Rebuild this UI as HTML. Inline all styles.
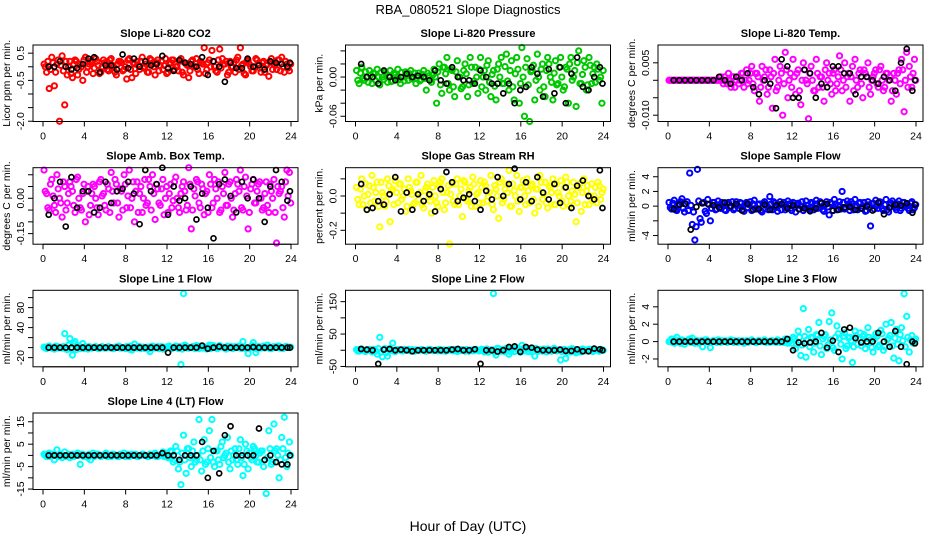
<!DOCTYPE html>
<html><head><meta charset="utf-8"><style>
html,body{margin:0;padding:0;background:#fff;}
svg{display:block;font-family:"Liberation Sans",sans-serif;}
</style></head><body>
<svg id="chart" width="936" height="540" viewBox="0 0 936 540">
<text x="468" y="14" text-anchor="middle" font-size="13">RBA_080521  Slope Diagnostics</text>
<text x="468" y="531" text-anchor="middle" font-size="14">Hour of Day (UTC)</text>
</svg>
<script>
const hours=[0.1,0.35,0.6,0.85,1.1,1.35,1.6,1.85,2.1,2.35,2.6,2.85,3.1,3.35,3.6,3.85,4.1,4.35,4.6,4.85,5.1,5.35,5.6,5.85,6.1,6.35,6.6,6.85,7.1,7.35,7.6,7.85,8.1,8.35,8.6,8.85,9.1,9.35,9.6,9.85,10.1,10.35,10.6,10.85,11.1,11.35,11.6,11.85,12.1,12.35,12.6,12.85,13.1,13.35,13.6,13.85,14.1,14.35,14.6,14.85,15.1,15.35,15.6,15.85,16.1,16.35,16.6,16.85,17.1,17.35,17.6,17.85,18.1,18.35,18.6,18.85,19.1,19.35,19.6,19.85,20.1,20.35,20.6,20.85,21.1,21.35,21.6,21.85,22.1,22.35,22.6,22.85,23.1,23.35,23.6,23.85];
const hours2=[0.22,0.47,0.72,0.97,1.22,1.47,1.72,1.97,2.22,2.47,2.72,2.97,3.22,3.47,3.72,3.97,4.22,4.47,4.72,4.97,5.22,5.47,5.72,5.97,6.22,6.47,6.72,6.97,7.22,7.47,7.72,7.97,8.22,8.47,8.72,8.97,9.22,9.47,9.72,9.97,10.22,10.47,10.72,10.97,11.22,11.47,11.72,11.97,12.22,12.47,12.72,12.97,13.22,13.47,13.72,13.97,14.22,14.47,14.72,14.97,15.22,15.47,15.72,15.97,16.22,16.47,16.72,16.97,17.22,17.47,17.72,17.97,18.22,18.47,18.72,18.97,19.22,19.47,19.72,19.97,20.22,20.47,20.72,20.97,21.22,21.47,21.72,21.97,22.22,22.47,22.72,22.97,23.22,23.47,23.72,23.97];
const blackHours=[0.55,1.1,1.65,2.2,2.75,3.3,3.85,4.4,4.95,5.5,6.05,6.6,7.15,7.7,8.25,8.8,9.35,9.9,10.45,11.0,11.55,12.1,12.65,13.2,13.75,14.3,14.85,15.4,15.95,16.5,17.05,17.6,18.15,18.7,19.25,19.8,20.35,20.9,21.45,22.0,22.55,23.1,23.65,23.9];
const xTicks=[0,4,8,12,16,20,24];

const co2Vals=[0.1,-0.2,-0.8,0.35,-0.7,0.1,-2.0,0.4,-1.4,-0.3,0.2,-0.4,0.25,-0.3,0.1,-0.5,0.35,0.0,0.2,-0.25,0.3,0.05,-0.2,0.25,0.1,-0.15,0.3,0.0,-0.3,0.2,0.15,-0.1,-0.45,0.3,-0.4,0.1,0.2,-0.1,0.35,0.0,-0.2,0.3,0.1,-0.3,0.25,0.05,-0.1,0.3,-0.2,0.15,0.25,0.0,-0.15,0.3,-0.3,0.1,-0.4,0.2,0.0,0.3,-0.25,0.15,0.7,-0.1,0.25,0.6,0.0,-0.2,0.65,0.3,0.1,-0.3,0.2,0.0,-0.2,0.35,0.7,0.1,-0.3,0.25,0.0,-0.15,0.3,0.1,-0.2,0.2,0.05,-0.35,0.3,0.1,-0.1,0.25,0.35,-0.2,0.1,-0.15];
const co2Vals2=[0.0,0.2,-0.1,0.15,-0.2,0.25,0.05,-0.15,0.2,0.0,-0.25,0.1,0.2,-0.1,0.0,0.25,-0.2,0.1,0.15,-0.05,0.2,-0.25,0.0,0.15,-0.1,0.25,0.05,-0.2,0.1,0.2,-0.15,0.0,0.25,-0.1,0.15,-0.25,0.05,0.2,-0.05,0.1,-0.2,0.25,0.0,0.15,-0.15,0.2,0.05,-0.25,0.1,0.25,-0.1,0.0,0.2,-0.2,0.15,0.05,-0.15,0.25,0.0,-0.1,0.2,0.1,-0.25,0.15,0.0,0.2,-0.15,0.25,-0.05,0.1,0.2,-0.2,0.0,0.15,0.25,-0.1,0.05,-0.25,0.2,0.1,-0.15,0.0,0.25,-0.05,0.15,-0.2,0.1,0.2,-0.1,0.05,0.25,-0.15,0.0,0.2,-0.05,0.1];
const co2Black=[0.0,0.0,0.2,0.0,-0.1,-0.05,0.1,0.3,0.35,-0.2,0.05,0.05,-0.1,0.45,-0.05,0.3,0.0,0.2,0.05,0.1,0.4,-0.05,-0.15,0.25,0.15,0.1,0.0,0.35,-0.3,0.2,0.0,-0.55,0.15,-0.05,-0.05,0.3,0.0,0.05,-0.1,0.2,0.15,0.1,0.0,0.15];
const presVals=[0.01,-0.01,0.015,-0.005,0.0,0.01,-0.01,0.005,0.012,-0.012,0.0,0.008,-0.008,0.01,-0.006,0.004,0.012,-0.01,0.0,0.008,-0.005,0.01,0.0,-0.01,0.006,-0.004,0.01,-0.02,0.002,-0.008,0.012,-0.04,0.02,-0.025,0.015,0.03,-0.02,0.01,-0.03,0.025,0.0,-0.015,0.02,-0.03,0.03,-0.01,0.015,-0.025,0.03,0.0,-0.02,0.025,-0.03,0.01,-0.035,0.02,0.03,-0.01,0.035,-0.02,0.025,-0.035,0.03,-0.04,0.045,-0.06,0.028,-0.068,0.01,-0.035,0.035,-0.02,0.02,-0.03,0.03,0.0,-0.035,0.025,-0.01,0.03,-0.02,0.015,-0.04,0.03,0.0,-0.045,0.04,-0.01,0.025,-0.02,0.03,-0.01,0.015,0.02,-0.005,-0.04];
const presVals2=[-0.005,0.006,-0.002,0.008,-0.008,0.003,0.006,-0.006,0.0,0.007,-0.004,0.005,0.002,-0.007,0.006,0.0,-0.004,0.007,-0.006,0.003,0.005,-0.003,0.006,0.002,-0.006,0.004,-0.002,0.006,-0.005,0.003,0.0,0.008,-0.012,0.015,0.005,-0.01,0.012,-0.015,0.008,0.0,-0.018,0.01,0.005,-0.012,0.015,-0.006,0.0,0.012,-0.015,0.01,0.018,-0.008,0.004,-0.014,0.012,0.0,-0.01,0.016,-0.006,0.01,-0.015,0.005,0.012,-0.01,0.0,0.015,-0.012,0.008,0.018,-0.005,0.0,0.012,-0.015,0.01,0.02,-0.008,0.006,-0.012,0.015,0.0,-0.015,0.012,0.02,-0.005,0.01,0.022,-0.01,0.004,0.015,-0.012,0.018,0.005,-0.008,0.012,0.0,0.01];
const presBlack=[0.02,0.0,0.0,-0.01,0.01,0.0,-0.005,0.0,0.005,0.0,0.002,0.0,-0.005,0.01,-0.005,-0.01,0.015,0.0,-0.005,-0.005,-0.01,0.01,0.0,-0.01,-0.01,-0.025,-0.01,-0.04,-0.02,-0.015,0.015,0.005,-0.03,0.012,-0.025,0.015,-0.04,0.005,0.03,-0.015,-0.02,0.0,0.015,-0.01];
const tempVals=[0,0,0,0,0,0,0,0,0,0,0,0,0,0,0,0,0,0,0,0,0.001,-0.001,0.0,0.002,-0.002,0.001,0.0,-0.001,0.002,-0.002,0.003,0.0,0.004,-0.003,0.002,-0.006,0.004,0.001,-0.004,0.003,-0.008,0.006,-0.002,0.004,-0.01,0.008,-0.005,0.002,0.006,-0.004,0.003,-0.007,0.005,0.0,-0.011,0.004,-0.003,0.006,-0.002,0.001,-0.006,0.005,0.002,-0.004,0.003,-0.001,0.007,-0.003,0.005,0.001,-0.006,0.004,0.006,-0.002,0.003,-0.005,0.002,0.005,-0.004,0.001,0.003,-0.002,0.004,-0.003,0.002,0.0,-0.006,0.002,-0.004,0.003,0.006,-0.009,0.008,0.004,-0.002,0.006];
const tempVals2=[0,0,0,0,0,0,0,0,0,0,0,0,0,0,0,0,0,0,0,0,0,0.001,-0.001,0.0,0.001,-0.002,0.001,0.0,0.002,0.0,-0.001,0.002,-0.001,0.002,0.001,-0.002,0.0,0.003,-0.002,0.001,0.002,-0.003,0.0,0.002,-0.001,0.003,0.0,-0.002,0.001,0.002,-0.003,0.0,0.003,-0.001,0.002,0.0,-0.003,0.002,0.001,-0.002,0.003,0.0,-0.001,0.002,-0.003,0.001,0.003,0.0,-0.002,0.002,0.001,-0.003,0.0,0.002,-0.001,0.003,0.001,-0.002,0.0,0.002,-0.001,0.003,0.0,-0.002,0.002,0.001,-0.003,0.0,0.002,-0.001,0.003,0.0,-0.002,0.001,0.002,0.0];
const tempBlack=[0,0,0,0,0,0,0,0,0.001,0.0,-0.001,0.001,0.0,0.002,-0.002,-0.004,0.0,-0.001,-0.008,0.006,0.004,-0.005,-0.005,0.003,0.002,-0.005,-0.001,-0.002,0.004,0.004,0.002,0.002,-0.004,0.001,0.001,0.0,-0.001,0.001,0.0,-0.003,0.005,0.009,-0.003,0.0];
const boxVals=[0.12,0.02,-0.05,0.08,-0.03,0.1,0.0,-0.08,0.05,-0.02,0.07,0.03,-0.06,0.09,-0.04,0.02,-0.1,0.05,-0.03,0.06,0.0,-0.07,0.08,0.02,-0.05,0.04,0.11,-0.02,0.06,-0.08,0.03,0.1,-0.04,0.12,0.0,-0.1,0.07,0.02,-0.06,0.08,-0.02,0.05,0.1,-0.09,0.04,-0.03,0.08,0.0,-0.06,0.06,-0.01,0.09,-0.04,0.02,0.07,-0.05,0.13,-0.13,0.04,0.08,-0.02,0.06,-0.07,0.03,0.1,-0.04,0.08,0.0,-0.06,0.05,0.11,-0.03,0.07,-0.08,0.02,0.06,0.12,-0.05,0.09,-0.13,0.04,0.08,-0.02,0.06,0.0,-0.04,0.07,-0.06,0.03,0.08,-0.19,0.02,0.05,-0.08,0.12,0.11];
const boxVals2=[0.03,-0.04,0.06,0.01,-0.06,0.04,-0.02,0.07,-0.05,0.02,0.05,-0.03,0.08,0.0,-0.05,0.06,0.03,-0.07,0.02,0.05,-0.04,0.07,0.01,-0.03,0.06,-0.06,0.03,0.08,-0.02,0.04,-0.05,0.06,0.01,-0.04,0.07,0.03,-0.06,0.05,0.0,-0.03,0.08,-0.05,0.02,0.06,-0.02,0.04,-0.07,0.05,0.02,-0.04,0.07,0.0,-0.06,0.05,0.03,-0.03,0.06,-0.05,0.01,0.07,-0.04,0.04,0.02,-0.06,0.06,-0.02,0.04,0.07,-0.05,0.02,-0.03,0.06,0.0,-0.05,0.08,0.03,-0.04,0.05,0.01,-0.06,0.06,-0.02,0.03,0.07,-0.05,0.02,-0.03,0.06,0.0,-0.06,0.05,0.03,-0.04,0.07,0.01,-0.02];
const boxBlack=[-0.07,0.0,0.07,-0.12,0.09,-0.04,0.03,0.03,-0.06,-0.04,0.07,-0.02,0.03,0.04,0.07,0.02,-0.11,0.12,0.03,0.06,0.13,-0.07,0.05,-0.01,0.0,0.05,-0.09,0.02,-0.04,-0.17,0.06,0.08,0.01,-0.06,0.07,0.0,0.08,0.0,-0.1,0.05,0.12,0.07,-0.01,0.03];
const rhVals=[0.05,-0.05,0.1,0.0,-0.08,0.06,0.12,-0.03,0.08,-0.18,0.02,-0.06,0.1,-0.15,0.04,0.09,-0.04,0.07,0.0,-0.09,0.1,0.03,-0.05,0.08,-0.02,0.12,-0.07,0.05,0.0,-0.1,0.09,-0.04,0.06,0.1,-0.08,0.02,-0.28,0.07,-0.05,0.1,0.0,-0.12,0.08,-0.03,0.05,0.11,-0.06,0.02,0.09,-0.04,0.06,0.0,0.12,-0.08,0.04,-0.13,0.1,-0.02,0.07,0.15,-0.06,0.03,0.12,-0.09,0.05,0.0,0.1,-0.04,0.07,-0.1,0.04,0.12,-0.02,0.08,-0.07,0.05,0.1,-0.05,0.02,0.09,-0.06,0.11,0.0,-0.03,0.08,-0.15,0.05,-0.09,0.1,0.03,-0.05,0.07,0.0,-0.04,0.06,0.02];
const rhVals2=[-0.02,0.04,-0.05,0.07,0.01,-0.04,0.05,0.02,-0.06,0.08,0.0,-0.03,0.06,0.03,-0.05,0.02,0.07,-0.02,0.04,-0.06,0.05,0.01,-0.04,0.08,0.02,-0.05,0.03,0.07,-0.03,0.05,0.0,-0.06,0.08,0.02,-0.04,0.06,0.01,-0.03,0.07,-0.05,0.04,0.09,-0.02,0.03,-0.06,0.07,0.01,-0.04,0.05,0.08,-0.03,0.02,-0.05,0.06,0.0,0.08,-0.04,0.04,0.02,-0.06,0.07,0.0,-0.03,0.05,0.09,-0.05,0.03,0.06,-0.02,0.04,-0.06,0.08,0.01,-0.04,0.06,0.02,-0.05,0.07,0.0,-0.03,0.05,0.08,-0.06,0.03,0.01,-0.04,0.07,0.02,-0.05,0.06,0.0,-0.03,0.05,0.08,-0.02,0.04];
const rhBlack=[0.07,-0.08,-0.07,-0.03,-0.05,0.01,0.11,-0.09,0.02,-0.08,0.01,-0.03,0.01,-0.09,0.04,0.14,0.08,-0.03,-0.01,0.01,-0.03,-0.08,0.03,-0.02,0.11,0.0,0.07,0.16,-0.02,0.08,-0.03,0.11,0.02,-0.02,0.07,-0.04,0.05,-0.07,0.06,0.09,0.0,-0.02,0.15,-0.07];
const sampVals=[0.5,-0.4,0.8,-0.6,0.3,1.0,-0.8,0.6,4.5,-2.5,-4.6,5.0,-1.7,0.4,-0.7,0.9,-2.0,0.5,-0.5,0.7,-0.3,0.4,-0.6,0.5,0.0,-0.5,0.6,-0.3,0.4,-0.7,0.5,0.2,-0.6,0.8,-0.4,0.3,-0.8,0.6,0.0,1.3,-0.5,0.4,-0.7,0.6,0.2,-0.5,0.7,-0.3,0.5,-0.8,0.4,0.0,-0.6,0.7,-0.3,0.5,-0.5,0.8,-0.2,0.4,-0.7,0.6,-1.2,0.3,0.9,-0.5,0.6,2.0,-0.4,0.7,-0.6,0.3,0.9,-0.5,0.5,0.0,-0.7,0.6,-2.7,0.4,0.8,-0.3,0.5,-0.6,0.9,-0.8,0.4,0.0,-0.5,0.7,-0.3,0.5,0.2,-0.6,0.6,-0.2];
const sampVals2=[-0.2,0.4,-0.5,0.2,0.6,-0.3,0.3,-0.6,0.1,-0.8,-2.8,0.7,-2.2,0.5,-1.0,0.2,-0.3,0.5,-0.4,0.2,0.5,-0.5,0.3,-0.2,0.6,-0.3,0.1,0.5,-0.5,0.3,-0.2,0.6,0.3,-0.4,0.2,-0.6,0.4,0.1,-0.5,0.3,0.6,-0.2,0.2,-0.5,0.5,-0.1,0.3,-0.6,0.4,0.2,-0.4,0.6,-0.2,0.1,-0.5,0.4,0.3,-0.3,0.6,-0.5,0.2,-0.1,0.5,-0.6,0.3,0.1,-0.4,0.5,-0.2,0.3,0.6,-0.5,0.1,0.4,-0.3,0.5,-0.6,0.2,0.3,-0.4,0.1,0.6,-0.3,0.2,-0.5,0.4,0.7,-0.2,0.3,-0.6,0.5,0.0,-0.3,0.4,-0.5,0.2];
const sampBlack=[-0.4,0.2,0.3,-3.2,-0.1,0.4,0.3,0.1,-0.2,0.5,0.0,0.3,-0.6,0.3,-0.5,-0.4,0.2,-0.5,0.1,0.3,-0.3,0.1,-0.4,-0.3,-0.7,-0.3,0.4,0.3,-0.6,-0.5,-0.2,-0.1,-0.5,-0.3,0.0,-0.6,0.5,-1.1,-0.2,0.2,0.1,0.4,-0.9,0.2];
const l1Vals=[1,-2,3,0,-3,2,1,-1,28,-4,18,-15,12,4,-2,8,2,-3,1,0,2,-2,1,0,-1,2,0,-2,1,3,-1,0,2,-3,-5,7,-1,2,0,-2,1,-8,3,-1,2,0,-3,1,2,-1,0,3,-2,-34,108,3,-1,0,2,4,-2,3,1,-3,5,0,2,-2,4,1,-1,3,0,-2,2,1,-1,12,-2,-12,0,10,-10,2,-1,3,0,1,-2,2,0,3,-1,1,2,0];
const l1Vals2=[-1,2,0,-2,3,-1,0,2,-3,5,-2,8,-4,2,1,-2,0,2,-1,1,0,-2,2,-1,1,0,-2,1,2,-1,0,-2,1,3,-1,0,2,-2,1,0,-3,2,0,1,-2,2,0,-1,3,-2,1,0,2,-3,5,-1,0,2,-2,1,3,-1,0,2,-2,4,1,-1,2,0,-3,1,2,-1,0,3,-2,1,0,-2,4,1,-3,0,2,-1,5,-2,1,0,3,-1,-2,2,0,1];
const l1Black=[0,0,0,0,0,0,0,0,0,0,0,0,0,0,0,0,0,0,0,0,0,-10,0,0,0,0,0,4,-2,0,2,0,0,0,0,0,1,0,0,0,0,0,0,0];
const l2Vals=[2,-3,4,-1,0,3,-5,2,-12,40,-20,5,-18,3,22,-4,2,0,-2,1,3,-2,0,1,-1,2,0,-3,2,1,-1,0,3,-2,1,0,2,-1,3,-4,0,2,-3,1,0,-2,3,-1,0,2,-4,-6,1,175,-15,5,-3,0,6,-12,2,-4,8,0,15,-2,4,3,-5,-18,0,2,-3,1,4,-2,0,3,-1,-30,2,-25,0,-5,3,-8,1,-4,2,0,3,-2,1,0,-3,2];
const l2Vals2=[-2,3,0,-4,2,-1,3,-3,5,-6,2,-8,4,0,-3,2,1,-2,3,0,-1,2,-3,1,0,2,-2,1,3,-1,0,-2,2,1,-3,0,2,-2,1,3,-1,0,2,-3,1,0,2,-2,3,-5,4,-3,2,-6,6,-2,3,-5,4,-4,7,-3,2,-6,5,8,-4,3,-2,5,-3,0,4,-5,2,-3,6,-2,0,-4,3,-6,2,5,-3,1,-5,4,-2,0,3,-4,2,-1,3,0];
const l2Black=[4,2,0,-42,2,4,0,2,0,-3,0,0,0,0,0,0,2,4,0,0,3,-42,0,0,-4,0,10,12,-5,10,8,2,0,0,0,2,-2,-2,3,-3,-3,5,3,0];
const l3Vals=[0,0.3,-0.2,0.5,0,0.2,-0.3,0,0.3,0.4,-0.2,0.1,0,-0.6,0.2,0,-0.7,0.1,0,0.2,-0.1,0,0.1,0,0.2,-0.1,0,0.1,0,-0.2,0.1,0,0.2,0,-0.1,0.1,0,0.2,0,-0.1,0.1,0,0.2,-0.1,0,0.3,-0.2,0.1,0.5,-0.8,1.2,-1.6,3.8,-1.8,1.4,0.5,-1.2,0.8,2.2,-1.5,0.6,-0.8,2.3,3.3,-1.0,1.8,0.4,-2.0,1.0,-0.5,0.5,-2.4,1.2,-0.3,1.0,0.6,-0.8,1.6,0.2,-1.2,0.9,-0.6,1.3,-1.0,2.0,0.4,2.2,-1.9,1.4,-2.2,1.6,5.5,2.9,-1.2,0.7,0.1];
const l3Vals2=[0.1,-0.1,0.2,0,-0.2,0.1,0,0.2,-0.1,0,0.1,-0.2,0.1,0,0.2,-0.1,0,0.1,-0.1,0,0.1,0,-0.1,0.1,0,0.1,-0.1,0,0.1,0,-0.1,0.1,0,-0.1,0.1,0,0.1,-0.1,0,0.1,0,-0.1,0.1,0,-0.1,0.1,0,-0.2,0.3,-0.3,0.5,-0.4,0.6,0.2,-0.6,0.4,-0.2,0.7,-0.5,0.3,0.8,-0.4,0.2,-0.7,0.5,0.9,-0.3,0.6,-0.8,0.4,0.1,-0.6,0.7,0.3,-0.5,0.8,-0.2,0.5,-0.7,0.3,0.6,-0.4,0.9,-0.6,0.2,0.7,-0.5,0.4,-0.3,0.8,0.1,-0.6,0.5,0.2,-0.2,0.3];
const l3Black=[0,0,0,0,0,0,0,0,0,0,0,0,0,0,0,0,0,0,0,0,0.3,-1.0,-0.1,-0.2,-0.1,0,1.0,-0.7,0.1,-1.2,1.4,1.6,0.4,-0.1,0,0,1.0,0.0,-0.6,1.2,-0.6,-2.6,0,-0.2];
const l4Vals=[0.5,-0.5,1,0,-2,2.5,0,-1,1.5,0,-1,0.5,0,1,-4,0.5,0,-1,-2,1,0,0.5,-0.5,0,1,0,-0.5,0.5,0,-0.5,0,1,0,-0.5,0.5,0,-0.5,0,0.5,0,-0.5,0.5,0,1,-0.5,0,1.5,0,-1,2,-3,4,-6,-13,9,-8,3,-5,6,-2,16,-7,7,-3,11,16,-5,2,-4,6,0,8,-6,-2,3,-4,7,-9,5,-6,-1,4,0,-3,2,-5,-17,11,-4,14,3,-10,8,17,-5,6];
const l4Vals2=[0,0.5,-0.5,0.5,0,-0.5,0.5,0,-0.5,0.5,0,-0.5,0.5,0,0.5,-0.5,0,0.5,0,-0.5,0.5,0,0,0.5,-0.5,0,0.5,0,-0.5,0.5,0,-0.5,0.5,0,0,0.5,-0.5,0,0.5,0,-0.5,0,0.5,-0.5,0,0.5,-0.5,1,-1,1.5,-2,2,-3,1,-2,3,-1,2,-3,0,-2,2,-4,3,-1,-3,2,-2,4,-1,1,-3,2,0,-2,3,-1,-4,2,1,-2,3,-3,1,2,-2,-1,3,-3,2,0,-2,3,-1,1,0];
const l4Black=[0,0,0,0,0,0,0,0,0,0,0,0,0,0,0,0,0,0,0,0,1,0,0,-2,0,0,0,6,-10,2,-8,9,13,0,0,0,0,12,-2,0,-3,-4,-4,0];

const panels=[
 {name:'co2',title:'Slope Li-820 CO2',ylab:'Licor ppm per min.',col:0,row:0,ymin:-2.01,ymax:0.8,ticks:[0.5,0,-0.5,-1,-1.5,-2],labels:{'0.5':'0.5','-0.5':'-0.5','-2':'-2.0'},color:'#ff0000',vals:co2Vals,vals2:co2Vals2,blk:co2Black},
 {name:'pressure',title:'Slope Li-820 Pressure',ylab:'kPa per min.',col:1,row:0,ymin:-0.068,ymax:0.049,ticks:[0.04,0.02,0,-0.02,-0.04,-0.06],labels:{'0':'0.00','-0.06':'-0.06'},color:'#00c800',vals:presVals,vals2:presVals2,blk:presBlack},
 {name:'temp',title:'Slope Li-820 Temp.',ylab:'degrees C per min.',col:2,row:0,ymin:-0.0118,ymax:0.0101,ticks:[0.005,0,-0.005,-0.01],labels:{'0.005':'0.005','-0.01':'-0.010'},color:'#ff00ff',vals:tempVals,vals2:tempVals2,blk:tempBlack},
 {name:'amb-box-temp',title:'Slope Amb. Box Temp.',ylab:'degrees C per min.',col:0,row:1,ymin:-0.195,ymax:0.13,ticks:[0.1,0.05,0,-0.05,-0.1,-0.15],labels:{'0':'0.00','-0.15':'-0.15'},color:'#ff00ff',vals:boxVals,vals2:boxVals2,blk:boxBlack},
 {name:'gas-rh',title:'Slope Gas Stream RH',ylab:'percent per min.',col:1,row:1,ymin:-0.281,ymax:0.165,ticks:[0.1,0,-0.1,-0.2],labels:{'0':'0.0','-0.2':'-0.2'},color:'#ffff00',vals:rhVals,vals2:rhVals2,blk:rhBlack},
 {name:'sample-flow',title:'Slope Sample Flow',ylab:'ml/min per min.',col:2,row:1,ymin:-5.18,ymax:5.23,ticks:[4,2,0,-2,-4],labels:{'4':'4','2':'2','0':'0','-4':'-4'},color:'#0000ff',vals:sampVals,vals2:sampVals2,blk:sampBlack},
 {name:'line1-flow',title:'Slope Line 1 Flow',ylab:'ml/min per min.',col:0,row:2,ymin:-38.4,ymax:114.6,ticks:[100,80,60,40,20,0,-20],labels:{'80':'80','40':'40','-20':'-20'},color:'#00ffff',vals:l1Vals,vals2:l1Vals2,blk:l1Black},
 {name:'line2-flow',title:'Slope Line 2 Flow',ylab:'ml/min per min.',col:1,row:2,ymin:-51,ymax:185,ticks:[150,100,50,0,-50],labels:{'150':'150','50':'50','-50':'-50'},color:'#00ffff',vals:l2Vals,vals2:l2Vals2,blk:l2Black},
 {name:'line3-flow',title:'Slope Line 3 Flow',ylab:'ml/min per min.',col:2,row:2,ymin:-2.9,ymax:5.9,ticks:[4,2,0,-2],labels:{'4':'4','2':'2','0':'0','-2':'-2'},color:'#00ffff',vals:l3Vals,vals2:l3Vals2,blk:l3Black},
 {name:'line4-flow',title:'Slope Line 4 (LT) Flow',ylab:'ml/min per min.',col:0,row:3,ymin:-15.2,ymax:18.9,ticks:[15,10,5,0,-5,-10,-15],labels:{'15':'15','5':'5','-5':'-5','-15':'-15'},color:'#00ffff',vals:l4Vals,vals2:l4Vals2,blk:l4Black}
];

const NS='http://www.w3.org/2000/svg';
const svg=document.getElementById('chart');
function mk(tag,attrs,parent){const e=document.createElementNS(NS,tag);for(const k in attrs)e.setAttribute(k,attrs[k]);(parent||svg).appendChild(e);return e;}
const rowTops=[45,167.7,290.3,413];
const H=76.5;
panels.forEach(p=>{
 const x0=43+p.col*312.5, pxPerHr=248/24;
 const L=x0-10, R=x0+255, T=rowTops[p.row], B=T+H;
 const xs=h=>x0+h*pxPerHr;
 const ys=v=>B-(v-p.ymin)/(p.ymax-p.ymin)*H;
 const g=mk('g',{});
 
 
 const t=mk('text',{x:(L+R)/2,y:T-8,'text-anchor':'middle','font-size':'11','font-weight':'bold'},g);
 t.textContent=p.title;
 
 
 const pts=mk('g',{fill:'none','stroke-width':'2'},g);
 
 
 const n=Math.min(p.vals.length,hours.length);
 for(let i=0;i<n;i++){
  const c=mk('circle',{cx:xs(hours[i]),cy:ys(p.vals[i]),r:2.6,stroke:p.color},pts);
  
  
 }
 const n2=Math.min(p.vals2.length,hours2.length);
 for(let i=0;i<n2;i++){
  const c=mk('circle',{cx:xs(hours2[i]),cy:ys(p.vals2[i]),r:2.6,stroke:p.color},pts);
  
  
 }
 const nb=Math.min(p.blk.length,blackHours.length);
 for(let i=0;i<nb;i++){
  const c=mk('circle',{cx:xs(blackHours[i]),cy:ys(p.blk[i]),r:2.5,stroke:'#000','stroke-width':'1.7'},pts);
  
  
 }
 const box=mk('rect',{x:L,y:T,width:R-L,height:H,fill:'none',stroke:'#000','stroke-width':'1'},g);
 
 
 const xa=mk('g',{},g);
 
 
 mk('line',{x1:xs(0),x2:xs(24),y1:B,y2:B,stroke:'#000'},xa);
 xTicks.forEach(h=>{
  mk('line',{x1:xs(h),x2:xs(h),y1:B,y2:B+5,stroke:'#000'},xa);
  const tl=mk('text',{x:xs(h),y:B+18,'text-anchor':'middle','font-size':'10.5'},xa);
  tl.textContent=String(h);
 });
 const ya=mk('g',{},g);
 
 
 const tk=p.ticks;
 mk('line',{x1:L,x2:L,y1:ys(Math.max(...tk)),y2:ys(Math.min(...tk)),stroke:'#000'},ya);
 tk.forEach(v=>{
  const y=ys(v);
  mk('line',{x1:L-5,x2:L,y1:y,y2:y,stroke:'#000'},ya);
  const lab=p.labels[String(v)];
  if(lab!==undefined){
   const tl=mk('text',{x:L-9,y:y,'text-anchor':'middle','font-size':'10.5',transform:`rotate(-90 ${L-9} ${y})`},ya);
   tl.textContent=lab;
  }
 });
 const yl=mk('text',{x:L-23,y:(T+B)/2,'text-anchor':'middle','font-size':'10.5',transform:`rotate(-90 ${L-23} ${(T+B)/2})`},g);
 yl.textContent=p.ylab;
 
 
});
</script>
</body></html>
